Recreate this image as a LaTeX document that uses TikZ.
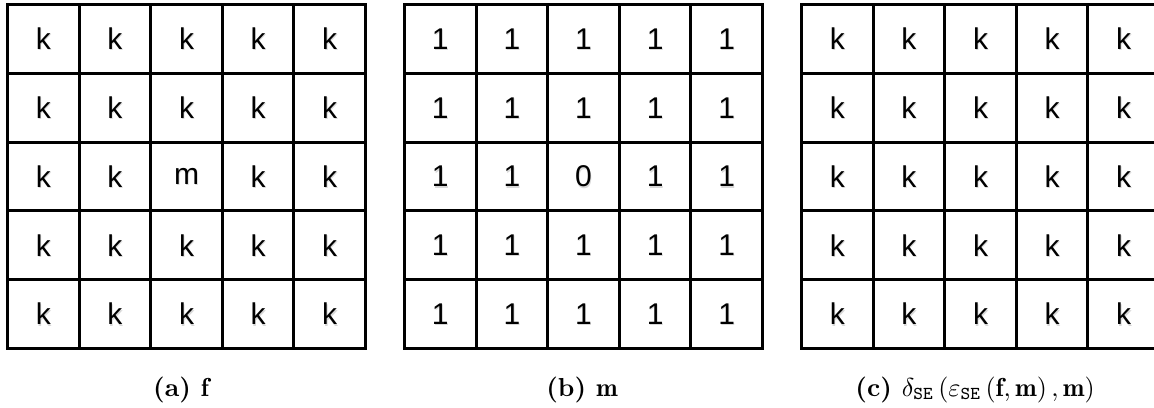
\documentclass[tikz,border=0pt]{standalone}
\usepackage{fontspec}
\newfontfamily\cellfont{Liberation Sans}
\begin{document}
\begin{tikzpicture}[x=1pt,y=-1pt,
  cellbox/.style={draw=black,line width=3pt,minimum width=71.6pt,minimum height=68.8pt,inner sep=0pt,anchor=north west},
  celltxt/.style={font=\cellfont\fontsize{30}{30}\selectfont},
  shadowtxt/.style={font=\cellfont\fontsize{30}{30}\selectfont,text=black!30,opacity=0.5},
  captxt/.style={scale=2.6,anchor=base,inner sep=0pt}]
\useasboundingbox (0,0) rectangle (1154,407);
\foreach \g/\gx in {a/6,b/403,c/800}{
  \foreach \r in {0,...,4}{
    \foreach \c in {0,...,4}{
      \node[cellbox] (\g-\r-\c) at ({\gx+71.6*\c},{3+68.8*\r}) {};
    }
  }
}
% cell texts
\foreach \r in {0,...,4}{
  \foreach \c in {0,...,4}{
    \pgfmathtruncatemacro\z{(\r==2 && \c==2) ? 0 : 1}
    \ifnum\z=0 \def\lbla{m}\else\def\lbla{k}\fi
    \node[shadowtxt] at ([shift={(0.8,1.2)}]a-\r-\c.center) {\lbla};
    \node[celltxt] (ta-\r-\c) at (a-\r-\c.center) {\lbla};
    \node[shadowtxt] at ([shift={(0.8,1.2)}]b-\r-\c.center) {\z};
    \node[celltxt] (tb-\r-\c) at (b-\r-\c.center) {\z};
    \node[shadowtxt] at ([shift={(0.8,1.2)}]c-\r-\c.center) {k};
    \node[celltxt] (tc-\r-\c) at (c-\r-\c.center) {k};
  }
}
\node[captxt] (capa) at (181,396) {\textbf{(a)\ }$\mathbf{f}$};
\node[captxt] (capb) at (582,396) {\textbf{(b)\ }$\mathbf{m}$};
\node[captxt] (capc) at (975,396) {\textbf{(c)\ }$\delta_{\mathtt{SE}}\left(\varepsilon_{\mathtt{SE}}\left(\mathbf{f},\mathbf{m}\right),\mathbf{m}\right)$};
\end{tikzpicture}
\end{document}
